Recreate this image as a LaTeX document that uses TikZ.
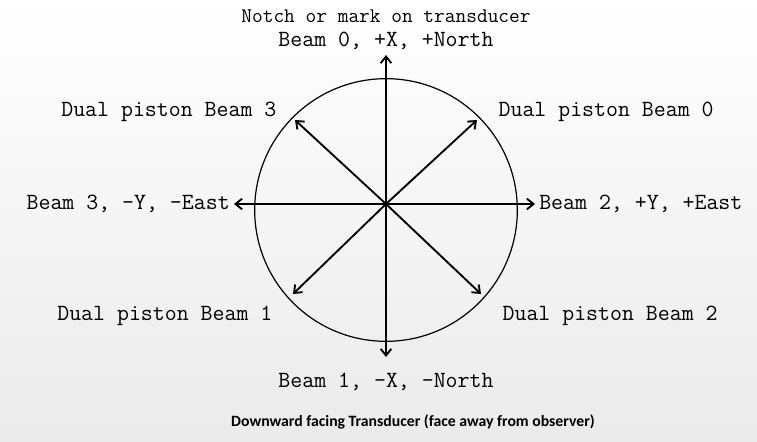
\documentclass[tikz,border=0pt]{standalone}
\usepackage{fontspec}
\setsansfont{Carlito}
\usetikzlibrary{arrows.meta,positioning}

\begin{document}
\begin{tikzpicture}[
    x=0.75pt, y=-0.75pt,
    beam/.style={-{Straight Barb[length=5pt, width=8pt]}, line width=1.4pt},
    lbl/.style={font=\fontsize{17.4}{19}\selectfont\ttfamily, inner sep=1pt},
    caption/.style={font=\fontsize{11.8}{13}\selectfont\sffamily\bfseries, inner sep=1pt}
  ]
    % Canvas
    \shade[top color=white, bottom color=black!8] (0,0) rectangle (757,442);
    \useasboundingbox (0,0) rectangle (757,442);

    % Transducer face
    \node[draw, circle, line width=0.9pt, minimum size=197pt, inner sep=0pt] (face) at (386,210) {};

    % Beam tips
    \coordinate (O) at (386,204);
    \coordinate (n) at (386,55);
    \coordinate (s) at (386,357);
    \coordinate (w) at (234,204);
    \coordinate (e) at (535,204);
    \coordinate (nw) at (295,120);
    \coordinate (ne) at (477,120);
    \coordinate (sw) at (293,294);
    \coordinate (se) at (481,294);

    % Beams
    \draw[beam] (O) -- (n);
    \draw[beam] (O) -- (s);
    \draw[beam] (O) -- (w);
    \draw[beam] (O) -- (e);
    \draw[beam] (O) -- (nw);
    \draw[beam] (O) -- (ne);
    \draw[beam] (O) -- (sw);
    \draw[beam] (O) -- (se);

    % Labels
    \node[lbl, above=3pt of n] (north) {Beam 0, +X, +North};
    \node[lbl, font=\fontsize{15.6}{17}\selectfont\ttfamily] (notch) at (386,16) {Notch or mark on transducer};
    \node[lbl, below=11pt of s] (south) {Beam 1, -X, -North};
    \node[lbl, left=2pt of w] (west) {Beam 3, -Y, -East};
    \node[lbl, right=2pt of e] (east) {Beam 2, +Y, +East};
    \node[lbl, anchor=east] (dual3) at (278,112) {Dual piston Beam 3};
    \node[lbl, anchor=west] (dual0) at (497,112) {Dual piston Beam 0};
    \node[lbl, anchor=east] (dual1) at (274,316) {Dual piston Beam 1};
    \node[lbl, anchor=west] (dual2) at (501,316) {Dual piston Beam 2};

    % Caption
    \node[caption] (cap) at (413,422) {Downward facing Transducer (face away from observer)};
\end{tikzpicture}
\end{document}
